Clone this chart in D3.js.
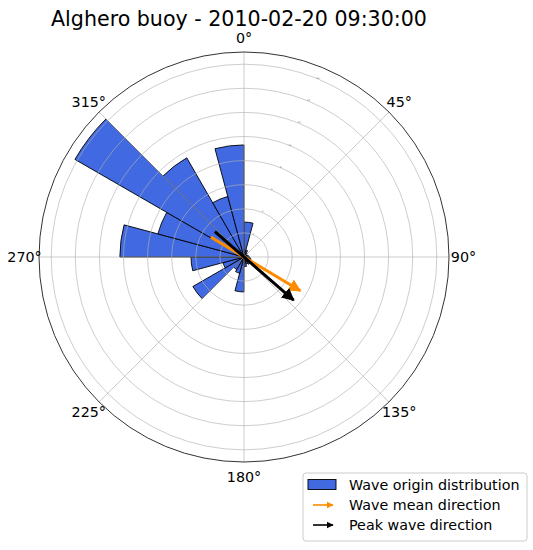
<!DOCTYPE html>
<html>
<head>
<meta charset="utf-8">
<script src="https://cdn.jsdelivr.net/npm/d3@7"></script>
<style>
  body { margin: 0; background: #fff; }
  text { font-family: "DejaVu Sans", sans-serif; fill: #000; }
</style>
</head>
<body>
<script>
// wave origin distribution, 15 degree bins (bin start, clockwise from north)
var binStart = [0, 15, 30, 45, 60, 75, 90, 105, 120, 135, 150, 165,
                180, 195, 210, 225, 240, 255, 270, 285, 300, 315, 330, 345];
var binFreq  = [2.9, 0.6, 0.4, 0.3, 0.3, 0.4, 0.5, 0.6, 0.8, 0.7, 0.6, 0.8,
                2.9, 1.4, 1.2, 4.9, 1.8, 4.4, 10.3, 7.4, 16.2, 9.5, 5.2, 9.3];
var binWidth = 15;

var angleTicks = [0, 45, 90, 135, 180, 225, 270, 315];
var angleLabels = ["0°", "45°", "90°", "135°", "180°", "225°", "270°", "315°"];
var ringTicks = [2, 4, 6, 8, 10, 12, 14, 16];

var meanDir = 301;   // wave mean direction (origin)
var peakDir = 311;   // peak wave direction (origin)
var arrowTail = 3.2, arrowHead = 5.45;

var titleText = "Alghero buoy - 2010-02-20 09:30:00";
var legendNames = ["Wave origin distribution", "Wave mean direction", "Peak wave direction"];

var W = 533, H = 550;
var cx = 244, cy = 257, R = 205;

var rMax = d3.max(binFreq) * 1.05;
var r = d3.scaleLinear().domain([0, rMax]).range([0, R]);
var ang = d3.scaleLinear().domain([0, 360]).range([0, 2 * Math.PI]);

function px(deg, v) { return r(v) * Math.sin(ang(deg)); }
function py(deg, v) { return -r(v) * Math.cos(ang(deg)); }

var svg = d3.select("body").append("svg")
    .attr("width", W)
    .attr("height", H);

var defs = svg.append("defs");
[["head-orange", "#ff8c00"], ["head-black", "#000"]].forEach(function(m) {
  defs.append("marker")
      .attr("id", m[0])
      .attr("viewBox", "0 0 10 10")
      .attr("refX", 9).attr("refY", 5)
      .attr("markerWidth", 4.2).attr("markerHeight", 4.4)
      .attr("markerUnits", "strokeWidth")
      .attr("orient", "auto")
    .append("path")
      .attr("d", "M0,0 L10,5 L0,10 Z")
      .attr("fill", m[1]);
});

svg.append("text")
    .attr("x", 239).attr("y", 26)
    .attr("text-anchor", "middle")
    .attr("font-size", "20.6px")
    .text(titleText);

var g = svg.append("g").attr("transform", "translate(" + cx + "," + cy + ")");

// bars
var arc = d3.arc().innerRadius(0);
g.selectAll(".bar")
    .data(binStart)
    .enter()
  .append("path")
    .attr("class", "bar")
    .attr("d", function(d, i) {
      return arc({outerRadius: r(binFreq[i]), startAngle: ang(d), endAngle: ang(d + binWidth)});
    })
    .style("fill", "#4169e1")
    .style("stroke", "#000")
    .style("stroke-width", 0.9)
    .style("stroke-linejoin", "miter");

// grid (drawn over bars like matplotlib)
g.selectAll(".ring")
    .data(ringTicks)
    .enter()
  .append("circle")
    .attr("class", "ring")
    .attr("r", function(d) { return r(d); })
    .style("fill", "none")
    .style("stroke", "#b0b0b0")
    .style("stroke-width", 0.8)
    .style("stroke-opacity", 0.8);

g.selectAll(".spoke")
    .data(angleTicks)
    .enter()
  .append("line")
    .attr("class", "spoke")
    .attr("x1", 0).attr("y1", 0)
    .attr("x2", function(d) { return px(d, rMax); })
    .attr("y2", function(d) { return py(d, rMax); })
    .style("stroke", "#b0b0b0")
    .style("stroke-width", 0.8)
    .style("stroke-opacity", 0.8);

// tiny radial labels
g.selectAll(".rlab")
    .data(ringTicks)
    .enter()
  .append("text")
    .attr("class", "rlab")
    .attr("x", function(d) { return px(22.5, d); })
    .attr("y", function(d) { return py(22.5, d); })
    .attr("font-size", "2.5px")
    .attr("text-anchor", "middle")
    .style("fill", "#777")
    .text(function(d) { return d; });

g.append("circle")
    .attr("r", R)
    .style("fill", "none")
    .style("stroke", "#333")
    .style("stroke-width", 1);

g.selectAll(".alab")
    .data(angleTicks)
    .enter()
  .append("text")
    .attr("class", "alab")
    .attr("x", function(d) { return (R + 14.5) * Math.sin(ang(d)); })
    .attr("y", function(d) { return -(R + 14.5) * Math.cos(ang(d)); })
    .attr("dy", "0.36em")
    .attr("text-anchor", "middle")
    .attr("font-size", "14.3px")
    .text(function(d, i) { return angleLabels[i]; });

// arrows: from origin side through center towards propagation
[[meanDir, "#ff8c00", "head-orange"], [peakDir, "#000", "head-black"]].forEach(function(a) {
  g.append("line")
      .attr("x1", px(a[0], arrowTail)).attr("y1", py(a[0], arrowTail))
      .attr("x2", px(a[0] + 180, arrowHead)).attr("y2", py(a[0] + 180, arrowHead))
      .style("stroke", a[1])
      .style("stroke-width", 3)
      .attr("marker-end", "url(#" + a[2] + ")");
});

// legend
var lg = svg.append("g").attr("transform", "translate(303,473)");
lg.append("rect")
    .attr("width", 224).attr("height", 68)
    .attr("rx", 3)
    .style("fill", "#fff")
    .style("fill-opacity", 0.8)
    .style("stroke", "#ccc")
    .style("stroke-width", 1);

lg.append("rect")
    .attr("x", 5).attr("y", 6.5)
    .attr("width", 28).attr("height", 10)
    .style("fill", "#4169e1")
    .style("stroke", "#000")
    .style("stroke-width", 0.9);

[["#ff8c00", "head-orange", 32], ["#000", "head-black", 52]].forEach(function(a) {
  lg.append("line")
      .attr("x1", 10).attr("y1", a[2])
      .attr("x2", 30).attr("y2", a[2])
      .style("stroke", a[0])
      .style("stroke-width", 1.6)
      .attr("marker-end", "url(#" + a[1] + ")");
});

lg.selectAll(".ltext")
    .data(legendNames)
    .enter()
  .append("text")
    .attr("class", "ltext")
    .attr("x", 46)
    .attr("y", function(d, i) { return 12 + i * 20; })
    .attr("dy", "0.36em")
    .attr("font-size", "14.3px")
    .text(function(d) { return d; });
</script>
</body>
</html>
